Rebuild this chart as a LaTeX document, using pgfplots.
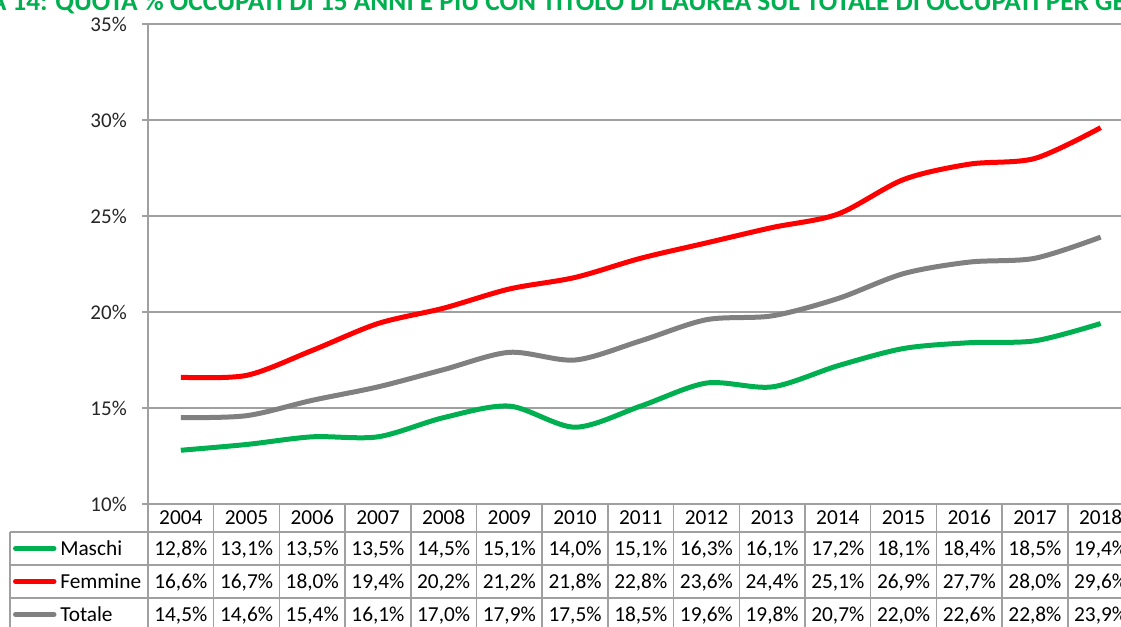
\documentclass[border=0pt]{standalone}
\usepackage{pgfplots}
\usepackage{pgfplotstable}
\pgfplotsset{compat=1.18}
\usepackage{fontspec}
\setmainfont{Carlito}
\definecolor{cgreen}{HTML}{00B050}
\definecolor{cred}{HTML}{FF0000}
\definecolor{cgrey}{HTML}{808080}
\definecolor{cgrid}{HTML}{A0A0A0}
\pgfkeys{/pgf/number format/assume math mode=true}
\pgfplotstableread{
year M F T
2004 12.8 16.6 14.5
2005 13.1 16.7 14.6
2006 13.5 18.0 15.4
2007 13.5 19.4 16.1
2008 14.5 20.2 17.0
2009 15.1 21.2 17.9
2010 14.0 21.8 17.5
2011 15.1 22.8 18.5
2012 16.3 23.6 19.6
2013 16.1 24.4 19.8
2014 17.2 25.1 20.7
2015 18.1 26.9 22.0
2016 18.4 27.7 22.6
2017 18.5 28.0 22.8
2018 19.4 29.6 23.9
}\datatable
\begin{document}
\begin{tikzpicture}
\begin{axis}[
  at={(111pt,-378pt)}, anchor=south west,
  scale only axis, width=739.125pt, height=360pt,
  xmin=2003.5, xmax=2018.5, ymin=10, ymax=35,
  axis x line=none,
  axis y line=left,
  y axis line style={-, draw=cgrid, line width=1.1pt},
  ytick={10,15,...,35},
  yticklabel={\pgfmathprintnumber{\tick}\%},
  ymajorgrids, grid style={cgrid, line width=1.1pt},
  tick align=outside, major tick length=4.5pt,
  tick style={cgrid, line width=1.1pt},
  yticklabel style={font=\fontsize{15.75}{18}\selectfont, text=black!85, anchor=east, inner sep=0pt, xshift=-11.25pt},
  clip=false,
]
\addplot[cgreen, line width=3.75pt, smooth, tension=0.5] table[x=year,y=M]{\datatable};
\addplot[cred, line width=3.75pt, smooth, tension=0.5] table[x=year,y=F]{\datatable};
\addplot[cgrey, line width=3.75pt, smooth, tension=0.5] table[x=year,y=T]{\datatable};
\end{axis}
\begin{scope}[x=0.75pt,y=-0.75pt,font=\fontsize{16}{19}\selectfont]
  % title
  \node[anchor=base west, inner sep=0pt, text=cgreen, font=\bfseries\fontsize{20.5}{24}\selectfont] at (55,10) {QUOTA \% OCCUPATI DI 15 ANNI E PIÙ CON TITOLO DI LAUREA SUL TOTALE DI OCCUPATI PER GENERE};
  \node[anchor=base east, inner sep=0pt, text=cgreen, font=\bfseries\fontsize{20.5}{24}\selectfont] at (48,10) {FIGURA 14:};
  % table grid
  \begin{scope}[draw=cgrid, line width=1.1pt]
    \draw (142,504) -- (1140,504);
    \draw (10,532) -- (1140,532);
    \draw (10,565) -- (1140,565);
    \draw (10,598) -- (1140,598);
    \draw (10,631) -- (1140,631);
    \draw (10,532) -- (10,632);
    \draw (148,504) -- (148,632);
    \foreach \k in {1,...,15} { \draw ({148+\k*65.7},504) -- ({148+\k*65.7},632); }
  \end{scope}
  % legend keys
  \draw[cgreen, line width=3.75pt, line cap=round] (15.5,548.5) -- (54,548.5);
  \draw[cred, line width=3.75pt, line cap=round] (15.5,581.5) -- (54,581.5);
  \draw[cgrey, line width=3.75pt, line cap=round] (15.5,614.5) -- (54,614.5);
  \node[anchor=base west, inner sep=0pt] at (60,555) {Maschi};
  \node[anchor=base west, inner sep=0pt] at (60,588) {Femmine};
  \node[anchor=base west, inner sep=0pt] at (60,621) {Totale};
  % cells
  \foreach \i in {0,...,14} {
    \pgfmathsetmacro\xc{148+(\i+0.5)*65.7}
    \pgfplotstablegetelem{\i}{year}\of\datatable
    \node[anchor=base] at (\xc,524.5) {\pgfplotsretval};
    \pgfplotstablegetelem{\i}{M}\of\datatable
    \node[anchor=base] at (\xc,555) {\pgfmathprintnumber[fixed,fixed zerofill,precision=1,use comma]{\pgfplotsretval}\%};
    \pgfplotstablegetelem{\i}{F}\of\datatable
    \node[anchor=base] at (\xc,588) {\pgfmathprintnumber[fixed,fixed zerofill,precision=1,use comma]{\pgfplotsretval}\%};
    \pgfplotstablegetelem{\i}{T}\of\datatable
    \node[anchor=base] at (\xc,621) {\pgfmathprintnumber[fixed,fixed zerofill,precision=1,use comma]{\pgfplotsretval}\%};
  }
\end{scope}
\pgfresetboundingbox
\path[use as bounding box] (0pt,0pt) rectangle (840.75pt,-469.5pt);
\end{tikzpicture}
\end{document}
